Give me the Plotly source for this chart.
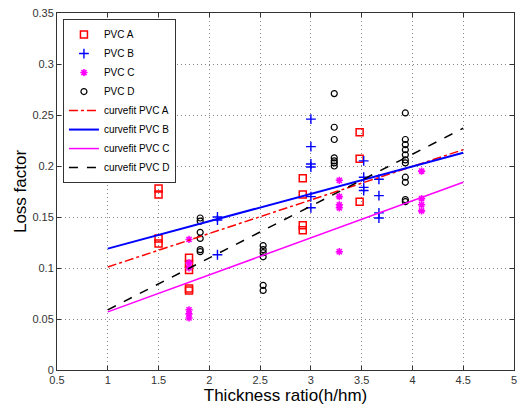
import plotly.graph_objects as go

# PVC A (red squares)
a_x = [1.5, 1.5, 1.5, 1.5, 1.8, 1.8, 1.8, 1.8, 1.8, 2.92, 2.92, 2.92, 2.92, 3.48, 3.48, 3.48]
a_y = [0.178, 0.172, 0.129, 0.124, 0.110, 0.104, 0.098, 0.080, 0.078, 0.188, 0.172, 0.142, 0.137, 0.233, 0.207, 0.165]

# PVC B (blue +)
b_x = [2.08, 2.08, 2.08, 3.0, 3.0, 3.0, 3.0, 3.0, 3.0, 3.52, 3.52, 3.52, 3.52, 3.67, 3.67, 3.67, 3.67]
b_y = [0.150, 0.147, 0.113, 0.246, 0.219, 0.202, 0.199, 0.170, 0.159, 0.205, 0.189, 0.179, 0.176, 0.187, 0.171, 0.154, 0.149]

# PVC C (magenta *)
c_x = [1.8, 1.8, 1.8, 1.8, 1.8, 1.8, 3.28, 3.28, 3.28, 3.28, 3.28, 4.09, 4.09, 4.09, 4.09]
c_y = [0.128, 0.105, 0.100, 0.059, 0.055, 0.051, 0.186, 0.170, 0.162, 0.159, 0.116, 0.195, 0.168, 0.162, 0.156]

# PVC D (black circles)
d_x = [1.91] * 6 + [2.53] * 6 + [3.23] * 7 + [3.93] * 11
d_y = [0.149, 0.146, 0.135, 0.129, 0.118, 0.116,
       0.122, 0.118, 0.115, 0.111, 0.083, 0.078,
       0.271, 0.238, 0.226, 0.208, 0.205, 0.203, 0.200,
       0.252, 0.226, 0.221, 0.216, 0.211, 0.206, 0.203, 0.189, 0.184, 0.167, 0.165]

# Curve fits
fit_x = [1.0, 4.5]
fit_a = [0.101, 0.216]
fit_b = [0.119, 0.213]
fit_c = [0.057, 0.184]
fit_d = [0.059, 0.237]

fig = go.Figure()
fig.add_trace(go.Scatter(x=a_x, y=a_y, mode="markers", name="PVC A",
                         marker=dict(symbol="square-open", size=7, color="red", line=dict(width=1.5))))
fig.add_trace(go.Scatter(x=b_x, y=b_y, mode="markers", name="PVC B",
                         marker=dict(symbol="cross-thin", size=7, color="blue", line=dict(width=1.4, color="blue"))))
fig.add_trace(go.Scatter(x=c_x, y=c_y, mode="markers", name="PVC C",
                         marker=dict(symbol="asterisk", size=6, color="magenta", line=dict(width=1.6, color="magenta"))))
fig.add_trace(go.Scatter(x=d_x, y=d_y, mode="markers", name="PVC D",
                         marker=dict(symbol="circle-open", size=6, color="black", line=dict(width=1.2))))
fig.add_trace(go.Scatter(x=fit_x, y=fit_a, mode="lines", name="curvefit PVC A",
                         line=dict(color="red", width=1.5, dash="dashdot")))
fig.add_trace(go.Scatter(x=fit_x, y=fit_b, mode="lines", name="curvefit PVC B",
                         line=dict(color="blue", width=2)))
fig.add_trace(go.Scatter(x=fit_x, y=fit_c, mode="lines", name="curvefit PVC C",
                         line=dict(color="magenta", width=1.5)))
fig.add_trace(go.Scatter(x=fit_x, y=fit_d, mode="lines", name="curvefit PVC D",
                         line=dict(color="black", width=1.5, dash="dash")))

axis_common = dict(
    showline=True, linecolor="#333", linewidth=1, mirror="ticks",
    ticks="inside", ticklen=4, tickcolor="#333", automargin=False,
    showgrid=True, gridcolor="#888", griddash="1px,3px", gridwidth=1,
    zeroline=False, tickfont=dict(family="Liberation Sans, Arial", size=11, color="#333"),
)

fig.update_layout(
    width=523, height=409,
    margin=dict(l=57, r=9, t=13, b=39),
    paper_bgcolor="white", plot_bgcolor="white",
    font=dict(family="Liberation Sans, Arial", color="black"),
    xaxis=dict(range=[0.5, 5], tickvals=[0.5, 1, 1.5, 2, 2.5, 3, 3.5, 4, 4.5, 5],
               ticktext=["0.5", "1", "1.5", "2", "2.5", "3", "3.5", "4", "4.5", "5"],
               title=dict(text="Thickness ratio(h/hm)", font=dict(size=17), standoff=3),
               **axis_common),
    yaxis=dict(range=[0, 0.35], tickvals=[0, 0.05, 0.1, 0.15, 0.2, 0.25, 0.3, 0.35],
               ticktext=["0", "0.05", "0.1", "0.15", "0.2", "0.25", "0.3", "0.35"],
               title=dict(text="Loss factor", font=dict(size=17), standoff=1),
               **axis_common),
    legend=dict(x=0.013, y=0.983, xanchor="left", yanchor="top",
                bgcolor="white", bordercolor="#333", borderwidth=1,
                font=dict(size=10), tracegroupgap=0, itemwidth=30),
    showlegend=True,
)

fig.write_html("out.html", config={"displayModeBar": False},
               post_script="document.body.style.margin='0';")
